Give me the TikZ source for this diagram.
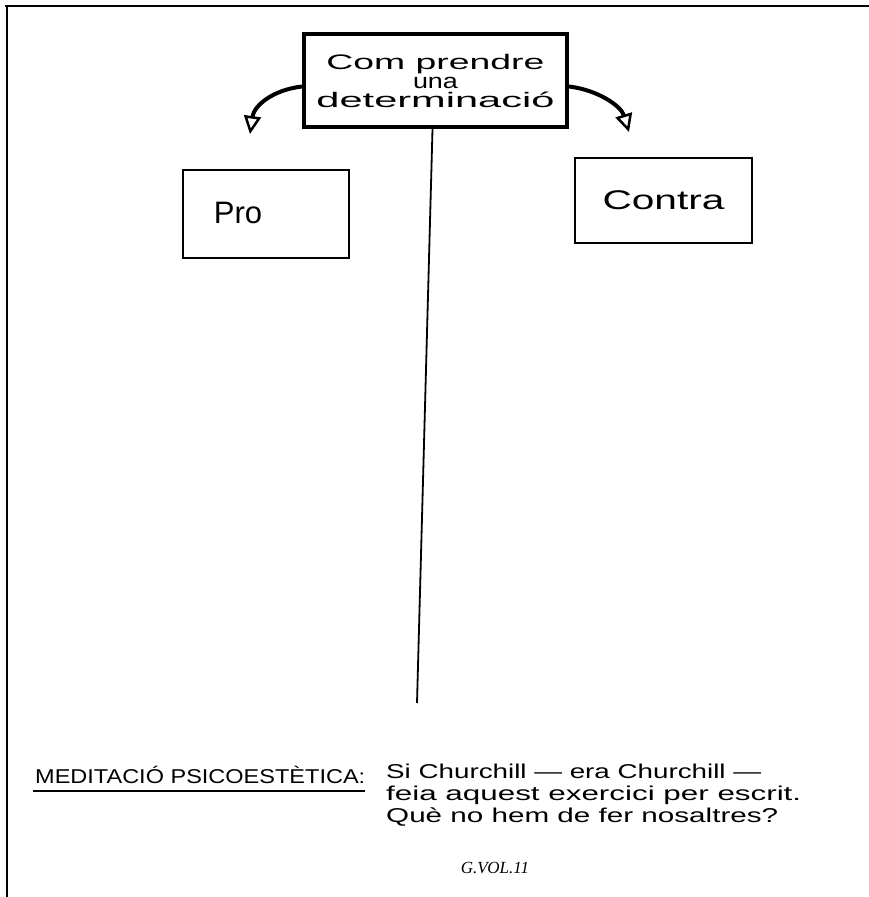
\documentclass[tikz,border=0pt]{standalone}
\usepackage{fontspec}
\setmainfont{Liberation Sans}
\newfontfamily\serifit{Liberation Serif}
\usetikzlibrary{arrows.meta}
\tikzset{
  mainbox/.style={draw, line width=4pt, minimum width=263pt, minimum height=93pt, inner sep=0pt, align=center,
    font=\fontsize{21}{19}\selectfont},
  sidebox/.style={draw, line width=1.6pt, inner sep=0pt, font=\fontsize{27}{30}\selectfont},
  curvearrow/.style={line width=4pt, -{Triangle[open, length=18pt, width=17pt, line width=2.5pt]}},
  hand/.style={inner sep=0pt, anchor=base west, font=\fontsize{20}{22}\selectfont},
  frame/.style={line width=2.5pt}
}
\begin{document}
\begin{tikzpicture}[x=1pt,y=-1pt]
\useasboundingbox (0,0) rectangle (869,897);
% outer frame
\draw[frame] (5,6) -- (869,6);
\draw[line width=2pt] (7,6) -- (7,897);
% title box
\node[mainbox] (main) at (435.5,80.5)
  {\resizebox{218pt}{\height}{Com prendre}\\
   \resizebox{45pt}{\height}{una}\\
   \resizebox{238pt}{\height}{determinació}};
% side boxes
\node[sidebox, minimum width=166pt, minimum height=88pt] (pro) at (266,214) {};
\node[inner sep=0pt, font=\fontsize{31}{33}\selectfont] (protext) at (238,213) {Pro};
\node[sidebox, minimum width=177pt, minimum height=85pt] (contra) at (663.5,200.5)
  {\resizebox{122pt}{\height}{Contra}};
% arrows
\coordinate (tipL) at (250,134);
\coordinate (tipR) at (629,132);
\draw[curvearrow] ([yshift=-6pt]main.west) .. controls (272,90) and (254,106) .. (tipL);
\draw[curvearrow] ([yshift=-6pt]main.east) .. controls (598,90) and (621,106) .. (tipR);
% central line
\coordinate (vend) at (417,703);
\draw[line width=1.8pt] ([xshift=-3pt]main.south) -- (vend);
% bottom text
\node[hand] (med) at (35,783) {\resizebox{330pt}{\height}{MEDITACIÓ PSICOESTÈTICA:}};
\draw[line width=2pt] ([xshift=-2pt,yshift=-8pt]med.south west) -- ([yshift=-8pt]med.south east);
\node[hand] (l1) at (386,778) {\resizebox{375pt}{\height}{Si Churchill — era Churchill —}};
\node[hand] (l2) at (386,800) {\resizebox{415pt}{\height}{feia aquest exercici per escrit.}};
\node[hand] (l3) at (386,822) {\resizebox{392pt}{\height}{Què no hem de fer nosaltres?}};
\node[inner sep=0pt, anchor=base, font=\serifit\itshape\fontsize{17}{19}\selectfont] (vol) at (495,873) {G.VOL.11};
\end{tikzpicture}
\end{document}
